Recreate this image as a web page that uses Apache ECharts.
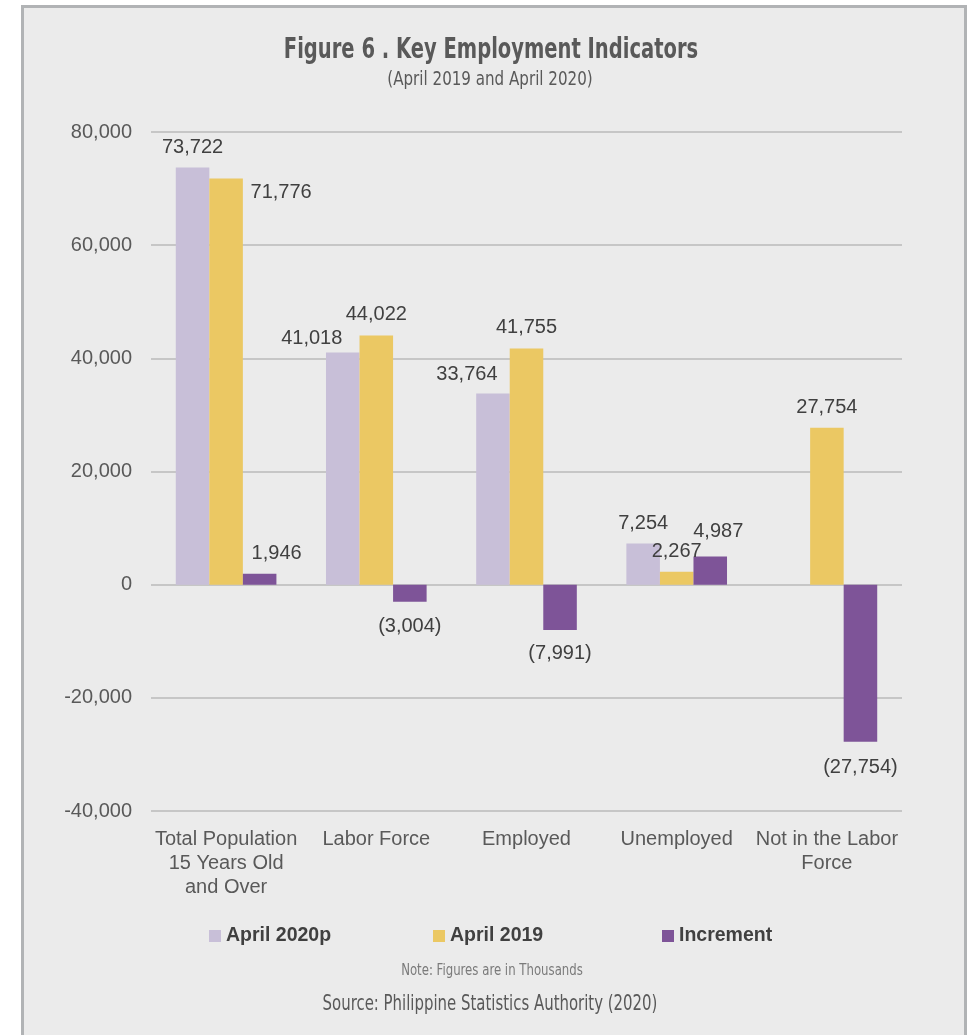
<!DOCTYPE html>
<html>
<head>
<meta charset="utf-8">
<script src="https://cdn.jsdelivr.net/npm/echarts@6/dist/echarts.min.js"></script>
<style>
  html, body { margin: 0; padding: 0; background: #ffffff; }
  #frame { position: absolute; left: 21px; top: 5px; width: 940px; height: 1040px; background: #ebebeb; border: 3px solid #b1b3b5; }
  #chart { position: absolute; left: 0; top: 0; width: 970px; height: 1035px; }
</style>
</head>
<body>
<div id="frame"></div>
<div id="chart"></div>
<script>
// ---- data ----
const categories = ['Total Population\n15 Years Old\nand Over', 'Labor Force', 'Employed', 'Unemployed', 'Not in the Labor\nForce'];
const seriesNames = ['April 2020p', 'April 2019', 'Increment'];
const april2020p = [73722, 41018, 33764, 7254, null];
const april2019 = [71776, 44022, 41755, 2267, 27754];
const increment = [1946, -3004, -7991, 4987, -27754];
const yTicks = [-40000, -20000, 0, 20000, 40000, 60000, 80000];

// ---- styling (not data) ----
const colors = ['#c8bfd8', '#ebc863', '#7e5498'];
const labelOffsets = [
  [[0, 2], [-31, 8], [-26, 3], [0, 2], [0, 0]],
  [[55, 36], [0, 1], [0, 1], [0, 2], [0, 2]],
  [[17, 2], [0, 3], [0, 2], [8, -3], [0, 4]]
];
const fontMain = '"Liberation Sans", Arial, Helvetica, sans-serif';
const fontNarrow = '"DejaVu Sans Condensed", "Liberation Sans", sans-serif';

function fmt(v) {
  const s = Math.abs(v).toLocaleString('en-US');
  return v < 0 ? '(' + s + ')' : s;
}

const allSeries = [april2020p, april2019, increment];
const series = allSeries.map(function (vals, si) {
  return {
    name: seriesNames[si],
    type: 'bar',
    barGap: '0%',
    barCategoryGap: '33%',
    itemStyle: { color: colors[si] },
    data: vals.map(function (v, i) {
      if (v === null) return '-';
      return {
        value: v,
        label: { offset: labelOffsets[si][i] }
      };
    }),
    label: {
      show: true,
      position: 'outside',
      distance: 12,
      fontFamily: fontMain,
      fontSize: 20,
      color: '#404040',
      formatter: function (p) { return fmt(p.value); }
    }
  };
});

function narrowText(txt, x, y, size, weight, color, sx) {
  return {
    type: 'text', x: x, y: y, scaleX: sx, scaleY: 1, silent: true,
    style: {
      text: txt, x: 0, y: 0, align: 'center', verticalAlign: 'middle',
      font: weight + ' ' + size + 'px ' + fontNarrow, fill: color
    }
  };
}

const chart = echarts.init(document.getElementById('chart'), null, { renderer: 'canvas' });
const legendLefts = [209, 433, 662];
chart.setOption({
  backgroundColor: 'transparent',
  animation: false,
  graphic: [
    narrowText('Figure 6 . Key Employment Indicators', 491, 51, 28, 'bold', '#595959', 0.775),
    narrowText('(April 2019 and April 2020)', 490, 80, 20, 'normal', '#595959', 0.84),
    narrowText('Note: Figures are in Thousands', 492, 971, 15, 'normal', '#7a7a7a', 0.87),
    narrowText('Source: Philippine Statistics Authority (2020)', 490, 1005, 21, 'normal', '#595959', 0.79)
  ],
  legend: seriesNames.map(function (n, i) {
    return {
      data: [n],
      left: legendLefts[i], top: 926, padding: 0,
      icon: 'rect', itemWidth: 12, itemHeight: 12, itemGap: 5,
      textStyle: { fontFamily: fontMain, fontWeight: 'bold', fontSize: 19.5, color: '#404040' }
    };
  }),
  grid: { left: 151, right: 68, top: 132, bottom: 1035 - 811, containLabel: false },
  xAxis: {
    type: 'category',
    data: categories,
    axisLine: { show: false },
    axisTick: { show: false },
    axisLabel: {
      margin: 16, interval: 0,
      fontFamily: fontMain, fontSize: 20, lineHeight: 24, color: '#595959'
    }
  },
  yAxis: {
    type: 'value',
    min: yTicks[0], max: yTicks[yTicks.length - 1], interval: 20000,
    axisLine: { show: false },
    axisTick: { show: false },
    splitLine: { lineStyle: { color: '#c6c6c6', width: 2 } },
    axisLabel: {
      margin: 19,
      fontFamily: fontMain, fontSize: 20, color: '#595959',
      formatter: function (v) { return v.toLocaleString('en-US'); }
    }
  },
  series: series
});
</script>
</body>
</html>
